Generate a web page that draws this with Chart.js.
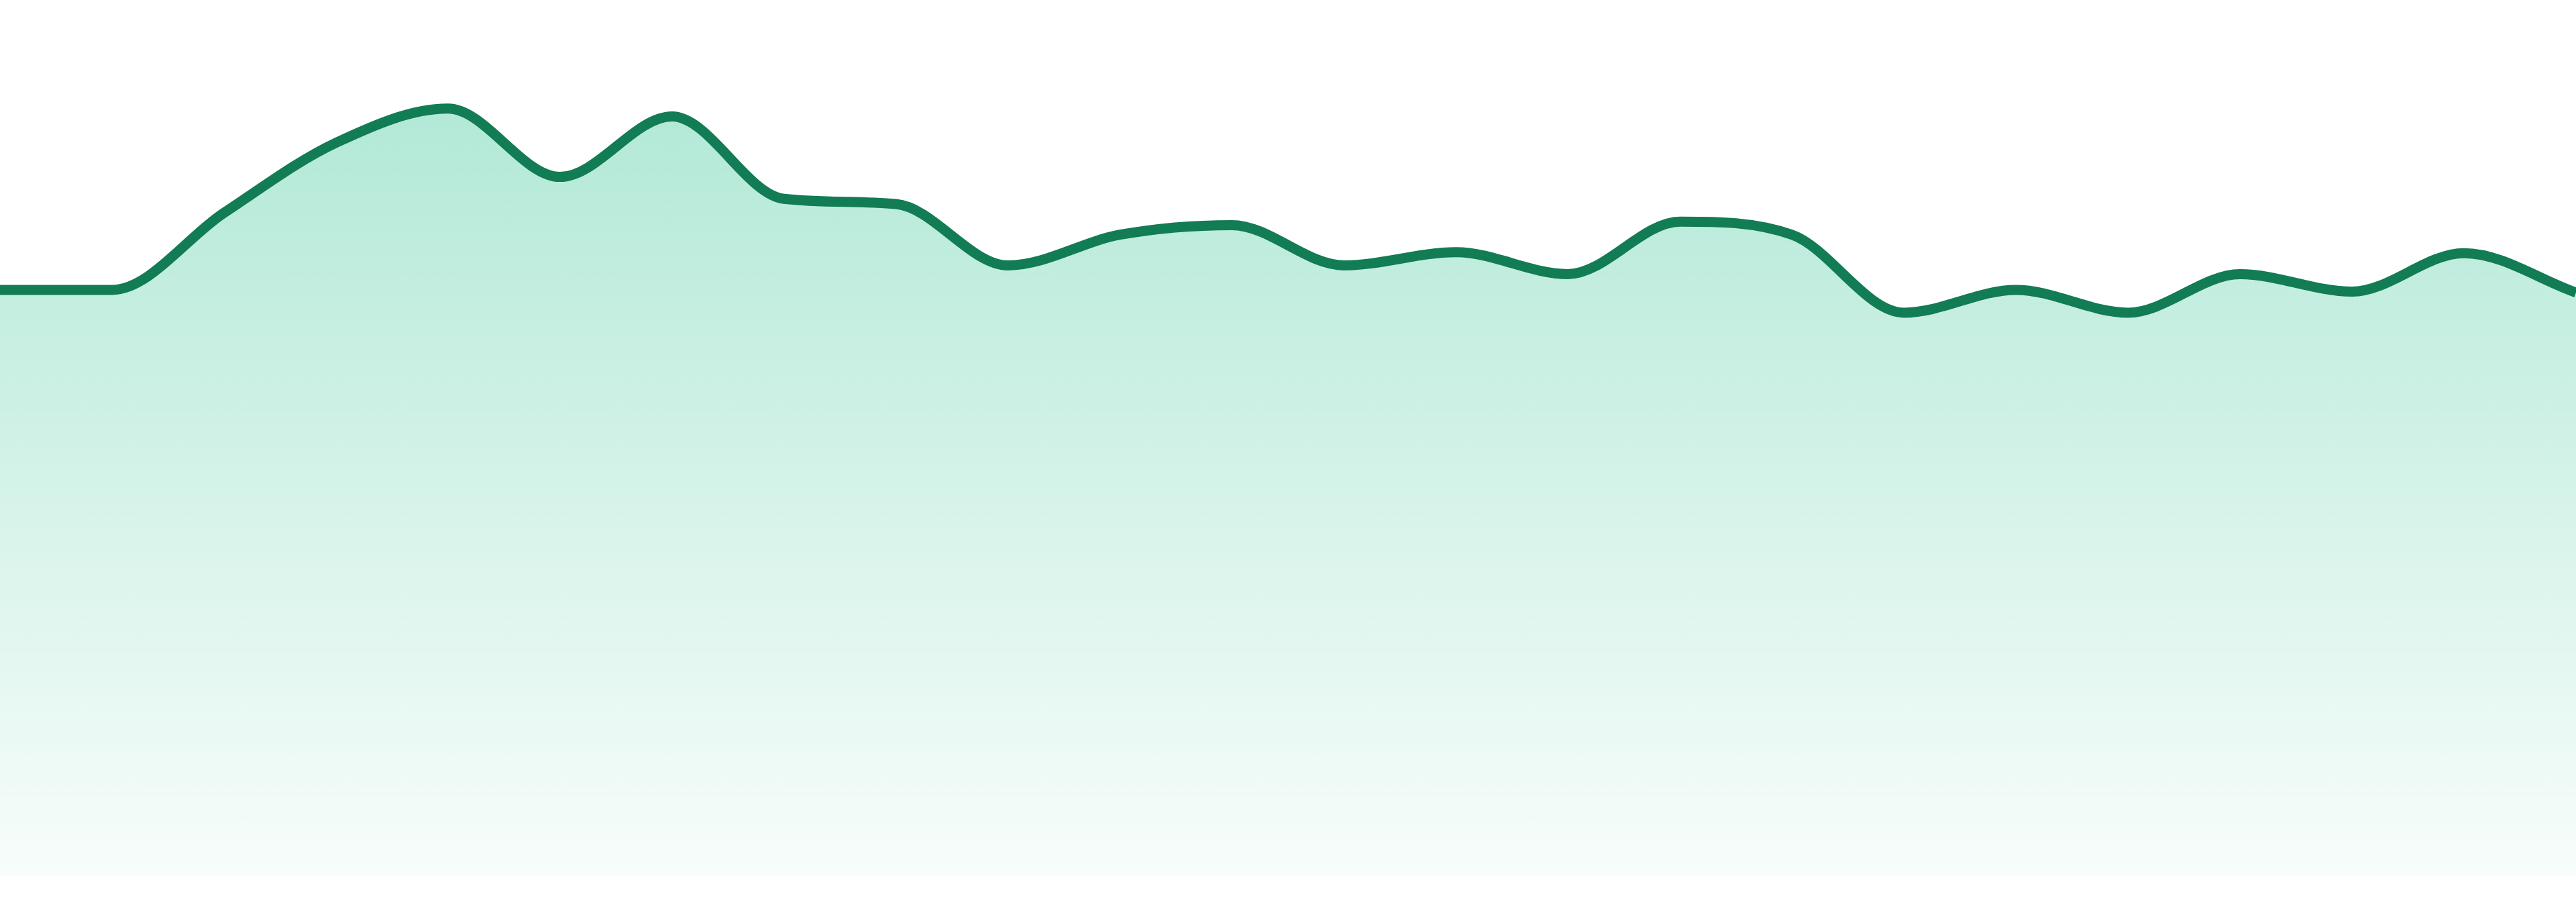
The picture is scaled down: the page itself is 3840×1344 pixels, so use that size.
<!DOCTYPE html>
<html>
<head>
<meta charset="utf-8">
<title>Area trend</title>
<script src="https://cdn.jsdelivr.net/npm/chart.js@4/dist/chart.umd.min.js"></script>
<style>
  html, body { margin: 0; padding: 0; background: #fff; }
  .wrap { width: 100vw; height: 100vh; position: relative; }
</style>
</head>
<body>
<div class="wrap"><canvas id="trendChart"></canvas></div>
<script>
// 24 samples (y axis 0..100)
const labels = [
  "1", "2", "3", "4", "5", "6", "7", "8", "9", "10", "11", "12",
  "13", "14", "15", "16", "17", "18", "19", "20", "21", "22", "23", "24"
];
const values = [
  66.9, 66.9, 75.7, 83.7, 87.6, 79.8, 86.7, 77.3, 76.7, 69.7, 73.2, 74.3,
  69.7, 71.2, 68.7, 74.7, 73.2, 64.3, 66.9, 64.3, 68.7, 66.7, 71.1, 66.6
];
const yMin = 0;
const yMax = 100;

document.addEventListener("DOMContentLoaded", function() {
  const ctx = document.getElementById("trendChart").getContext("2d");
  new Chart(ctx, {
    type: "line",
    data: {
      labels: labels,
      datasets: [{
        data: values,
        borderColor: "#127c54",
        borderWidth: 15,
        pointRadius: 0,
        pointHoverRadius: 0,
        fill: "start",
        cubicInterpolationMode: "monotone",
        backgroundColor: function(context) {
          const area = context.chart.chartArea;
          if (!area) return "rgba(16,185,129,0.2)";
          const g = context.chart.ctx.createLinearGradient(0, area.top, 0, area.bottom);
          g.addColorStop(0, "rgba(16,185,129,0.36)");
          g.addColorStop(1, "rgba(16,185,129,0.03)");
          return g;
        }
      }]
    },
    options: {
      responsive: true,
      maintainAspectRatio: false,
      animation: false,
      layout: { padding: { top: 0, bottom: 39, left: 0, right: 0 } },
      plugins: { legend: { display: false }, tooltip: { enabled: false } },
      scales: {
        x: { display: false, offset: false },
        y: { display: false, min: yMin, max: yMax }
      }
    }
  });
});
</script>
</body>
</html>
